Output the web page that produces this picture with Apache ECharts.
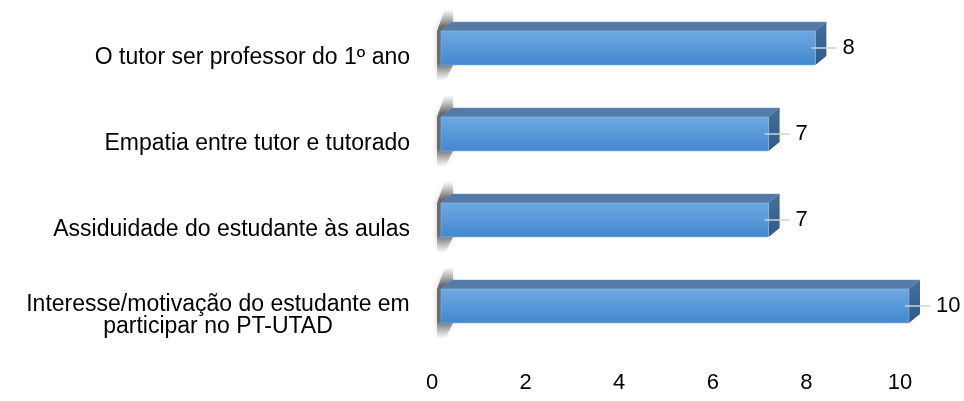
<!DOCTYPE html>
<html>
<head>
<meta charset="utf-8">
<script src="https://cdn.jsdelivr.net/npm/echarts@6/dist/echarts.min.js"></script>
<style>
  html, body { margin: 0; padding: 0; background: #fff; }
  #chart { width: 964px; height: 401px; }
</style>
</head>
<body>
<div id="chart"></div>
<script>
// categorias (de cima para baixo) e valores
const categories = [
  'O tutor ser professor do 1º ano',
  'Empatia entre tutor e tutorado',
  'Assiduidade do estudante às aulas',
  'Interesse/motivação do estudante em\nparticipar no PT-UTAD'
];
const values = [8, 7, 7, 10];

const FONT = '"Liberation Sans", Arial, sans-serif';
const chart = echarts.init(document.getElementById('chart'));

// profundidade do efeito 3D
const DX = 11, DY = 9, HALF = 17, SHIFT = 10;

function renderBar(params, api) {
  const idx = api.value(0);
  const v = api.value(1);
  const p0 = api.coord([0, idx]);
  const p1 = api.coord([v, idx]);
  const c = p0[1] - SHIFT;
  const x0 = p0[0] + 9, x1 = p1[0] + 9;
  const top = c - HALF, bot = c + HALF;

  return {
    type: 'group',
    children: [
      // sombra na parede do fundo
      {
        type: 'polygon',
        shape: { points: [[x0 - 4, bot + 16], [x0 - 4, top], [x0 + 4, top - DY - 13], [x0 + 12, top - DY - 13], [x0 + 12, bot], [x0 + 4, bot + 16]] },
        style: {
          fill: new echarts.graphic.LinearGradient(0, 0, 0, 1, [
            { offset: 0, color: 'rgba(130,130,130,0)' },
            { offset: 0.25, color: 'rgba(70,70,70,0.75)' },
            { offset: 0.75, color: 'rgba(70,70,70,0.75)' },
            { offset: 1, color: 'rgba(130,130,130,0)' }
          ]),
          shadowBlur: 6,
          shadowColor: 'rgba(0,0,0,0.25)'
        }
      },
      // face de cima
      {
        type: 'polygon',
        shape: { points: [[x0, top], [x0 + DX, top - DY], [x1 + DX, top - DY], [x1, top]] },
        style: { fill: '#557ca6', stroke: '#6c8fb5', lineWidth: 0.5 }
      },
      // face lateral
      {
        type: 'polygon',
        shape: { points: [[x1, top], [x1 + DX, top - DY], [x1 + DX, bot - DY], [x1, bot]] },
        style: {
          fill: new echarts.graphic.LinearGradient(0, 0, 0, 1, [
            { offset: 0, color: '#426f9c' },
            { offset: 1, color: '#2e5b88' }
          ])
        }
      },
      // face da frente
      {
        type: 'rect',
        shape: { x: x0, y: top, width: x1 - x0, height: bot - top },
        style: {
          fill: new echarts.graphic.LinearGradient(0, 0, 0, 1, [
            { offset: 0, color: '#6ea9e2' },
            { offset: 1, color: '#4387cf' }
          ]),
          stroke: '#8db6e2',
          lineWidth: 0.6
        }
      },
      // linha de chamada
      {
        type: 'line',
        shape: { x1: x1 - 4, y1: c, x2: x1 + DX + 10, y2: c },
        style: { stroke: '#c8d3de', lineWidth: 1.5 }
      },
      // rótulo do valor
      {
        type: 'text',
        style: {
          x: x1 + DX + 16, y: c,
          text: String(v),
          fill: '#000',
          font: '22px ' + FONT,
          verticalAlign: 'middle',
          align: 'left'
        }
      }
    ]
  };
}

const option = {
  animation: false,
  grid: { left: 432, right: 64, top: 15, bottom: 42 },
  xAxis: {
    type: 'value',
    min: 0,
    max: 10,
    interval: 2,
    axisLine: { show: false },
    axisTick: { show: false },
    splitLine: { show: false },
    axisLabel: {
      margin: 13,
      color: '#000',
      fontSize: 22,
      fontFamily: FONT
    }
  },
  yAxis: {
    type: 'category',
    inverse: true,
    data: categories,
    axisLine: { show: false },
    axisTick: { show: false },
    axisLabel: {
      margin: 22,
      color: '#000',
      fontSize: 23,
      lineHeight: 22,
      align: 'right',
      fontFamily: FONT,
      // rótulo de duas linhas: linhas centradas entre si
      formatter: function (val) {
        if (val.indexOf('\n') < 0) return val;
        return val.split('\n').map(s => '{c|' + s + '}').join('\n');
      },
      rich: {
        c: { width: 384, align: 'center', fontSize: 23, lineHeight: 22, fontFamily: FONT, color: '#000' }
      }
    }
  },
  series: [{
    type: 'custom',
    renderItem: renderBar,
    encode: { x: 1, y: 0 },
    data: values.map((v, i) => [i, v])
  }]
};

chart.setOption(option);
</script>
</body>
</html>
